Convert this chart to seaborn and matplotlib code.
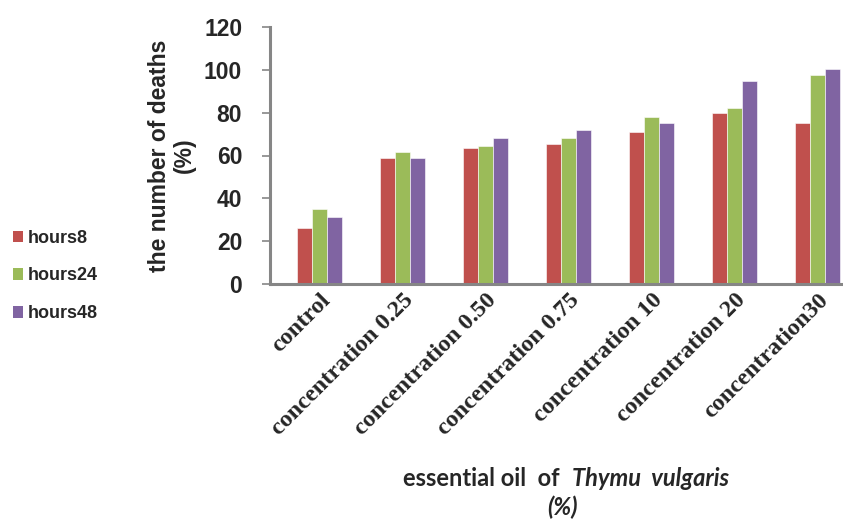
import matplotlib
matplotlib.use("Agg")
import matplotlib.pyplot as plt
from matplotlib.patches import Patch
from matplotlib.transforms import offset_copy
import seaborn as sns
import pandas as pd

# Mortality (%) of insects after exposure to Thymus vulgaris essential oil
categories = ["control", "concentration 0.25", "concentration 0.50",
              "concentration 0.75", "concentration 10", "concentration 20",
              "concentration30"]
hours8 = [26, 59, 63.5, 65.5, 71, 80, 75]
hours24 = [35, 61.5, 64.5, 68, 78, 82, 97.5]
hours48 = [31.5, 59, 68, 72, 75, 95, 100.5]
series_names = ["hours8", "hours24", "hours48"]
colors = ["#C0504D", "#9BBB59", "#8064A2"]
y_ticks = [0, 20, 40, 60, 80, 100, 120]

rows = []
for name, vals in zip(series_names, [hours8, hours24, hours48]):
    for cat, v in zip(categories, vals):
        rows.append({"category": cat, "series": name, "value": v})
df = pd.DataFrame(rows)

sns.set_style("white")
plt.rcParams["font.family"] = ["Liberation Sans", "DejaVu Sans"]

W, H = 843, 521
fig = plt.figure(figsize=(W / 100, H / 100), dpi=100)
ax = fig.add_axes([270 / W, 237 / H, 581 / W, 257 / H])

sns.barplot(data=df, x="category", y="value", hue="series",
            order=categories, hue_order=series_names,
            palette=colors, width=0.54, saturation=1, ax=ax,
            edgecolor="white", linewidth=0.4, legend=False)

ax.set_xlim(-0.6, 6.4)
ax.set_ylim(0, 120)
ax.set_yticks(y_ticks)
ax.set_yticklabels([str(t) for t in y_ticks], fontsize=16.5,
                   fontweight="bold", family=["Liberation Sans"])

# category labels at centres, boundary ticks between categories
ax.set_xticks(range(len(categories)))
ax.set_xticklabels(categories, rotation=45, ha="right",
                   rotation_mode="anchor", fontsize=17.5, fontweight="bold",
                   family=["Liberation Serif"])
for lab in ax.get_xticklabels():
    lab.set_transform(offset_copy(lab.get_transform(), fig=fig,
                                  x=4, y=0, units="dots"))
ax.set_xticks([k - 0.6 for k in range(len(categories) + 1)], minor=True)
ax.tick_params(axis="x", which="major", length=0, pad=4)
ax.tick_params(axis="x", which="minor", length=5, width=1.2,
               color="#868686", direction="out")
ax.tick_params(axis="y", length=6, width=1.2, color="#868686",
               direction="out", pad=14, left=True)

for side in ["top", "right"]:
    ax.spines[side].set_visible(False)
for side in ["left", "bottom"]:
    ax.spines[side].set_color("#868686")
    ax.spines[side].set_linewidth(2.2)

ax.set_xlabel("")
ax.set_ylabel("the number of deaths\n(%)", fontsize=16.5, fontweight="bold",
              linespacing=1.15)
ax.yaxis.set_label_coords(-0.127, 0.5)

# legend on the far left
handles = [Patch(facecolor=c, edgecolor="none") for c in colors]
fig.legend(handles, series_names, loc="center left",
           bbox_to_anchor=(0.0, 1 - 276 / H), frameon=False,
           prop={"family": "Liberation Sans", "weight": "bold", "size": 13},
           handlelength=0.6, handleheight=0.6, handletextpad=0.25,
           labelspacing=1.15, borderpad=0.5, borderaxespad=0.2)

# x-axis title with the species name in italics
renderer = fig.canvas.get_renderer()
font = ["Lato", "DejaVu Sans"]
part1 = fig.text(0, 0, "essential oil  of  ", fontsize=17,
                 fontweight="bold", family=font, va="center")
part2 = fig.text(0, 0, "Thymu  vulgaris", fontsize=17, fontweight="bold",
                 style="italic", family=font, va="center")
w1 = part1.get_window_extent(renderer).width
w2 = part2.get_window_extent(renderer).width
cx = 566
x0 = cx - (w1 + w2) / 2
part1.set_position((x0 / W, 1 - 478 / H))
part2.set_position(((x0 + w1) / W, 1 - 478 / H))
fig.text(562 / W, 1 - 507 / H, "(%)", fontsize=17, fontweight="bold",
         style="italic", family=font, ha="center", va="center")

fig.savefig("out.png", dpi=100)
